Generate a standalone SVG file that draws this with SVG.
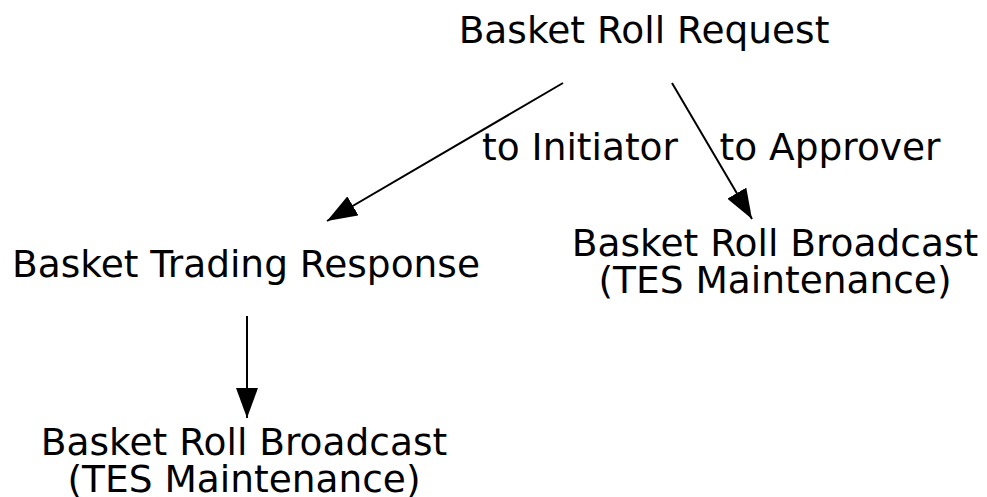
<svg xmlns="http://www.w3.org/2000/svg" width="987" height="497" viewBox="0 0 987 497">
<style>
text{font-family:"DejaVu Sans",sans-serif;font-size:37.5px;fill:#000;text-anchor:middle}
.edge{stroke:#000;stroke-width:2;fill:none}
</style>
<defs>
<marker id="ah" viewBox="0 0 30 22" refX="30" refY="11" markerWidth="30" markerHeight="22" markerUnits="userSpaceOnUse" orient="auto">
<path d="M0,0 L30,11 L0,22 Z" fill="#000"/>
</marker>
</defs>
<rect width="987" height="497" fill="#fff"/>
<g id="connectors">
<line class="edge" x1="563" y1="83" x2="327" y2="221" marker-end="url(#ah)"/>
<line class="edge" x1="672" y1="83" x2="752" y2="219" marker-end="url(#ah)"/>
<line class="edge" x1="247" y1="316" x2="247" y2="418" marker-end="url(#ah)"/>
<text x="580" y="160">to Initiator</text>
<text x="830" y="160">to Approver</text>
</g>
<g id="request"><text x="644" y="43">Basket Roll Request</text></g>
<g id="response"><text x="246" y="277">Basket Trading Response</text></g>
<g id="broadcast1"><text x="775" y="256">Basket Roll Broadcast</text><text x="775" y="293">(TES Maintenance)</text></g>
<g id="broadcast2"><text x="244" y="455">Basket Roll Broadcast</text><text x="244" y="492">(TES Maintenance)</text></g>
</svg>
